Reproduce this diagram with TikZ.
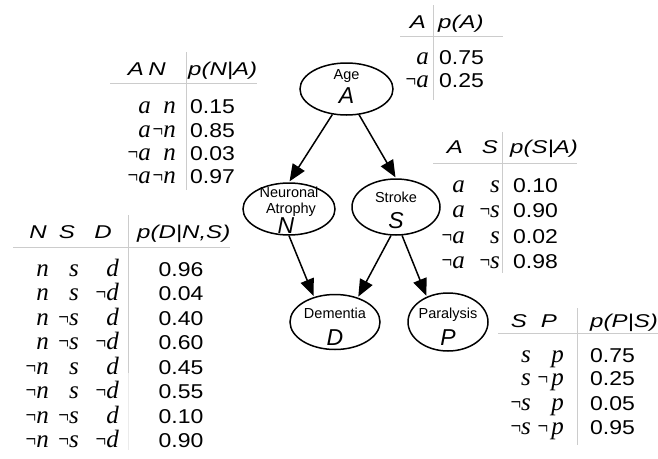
\documentclass[tikz,border=0pt]{standalone}
\usepackage{fontspec}
\usepackage{graphicx}
\setmainfont{Liberation Sans}
\newfontfamily\tsans[FakeStretch=1.15]{Liberation Sans}
\newfontfamily\thead[FakeStretch=1.3]{Liberation Sans}
\newfontfamily\tser{Liberation Serif}
\newcommand{\nt}{{\upshape\scalebox{0.75}[1]{¬}}}
\usetikzlibrary{shapes.geometric,arrows.meta}
\tikzset{
 bn/.style={ellipse, draw, line width=1.5pt, inner sep=0pt},
 nlbl/.style={font=\fontsize{14.5}{16}\selectfont, inner sep=0pt, anchor=base},
 nvar/.style={font=\itshape\fontsize{23}{25}\selectfont, inner sep=0pt, anchor=base},
 edge/.style={line width=1.5pt, -{Triangle[length=17pt,width=14pt]}, shorten >=1pt},
 hd/.style={font=\thead\itshape\fontsize{18.5}{20}\selectfont, inner sep=0pt},
 num/.style={font=\tsans\fontsize{20}{22}\selectfont, inner sep=0pt},
 var/.style={font=\tser\itshape\fontsize{25}{27}\selectfont, inner sep=0pt, anchor=base east},
 rule/.style={draw=black!20, line width=0.9pt},
}
\begin{document}
\begin{tikzpicture}[x=1pt,y=-1pt]
\path[fill=white,use as bounding box] (0,0) rectangle (658,458);

% ---------- Bayesian network ----------
\node[bn, minimum width=93pt, minimum height=52pt] (A) at (346.5,89) {};
\node[bn, minimum width=92pt, minimum height=52pt] (N) at (289,209) {};
\node[bn, minimum width=88pt, minimum height=56pt] (S) at (396,207) {};
\node[bn, minimum width=90pt, minimum height=55pt] (D) at (335,322) {};
\node[bn, minimum width=80pt, minimum height=58pt] (P) at (448,322) {};

\node[nlbl] (At) at (346.5,79) {Age};
\node[nvar] (Av) at (346.5,103) {A};
\node[nlbl] (Nt1) at (289,197) {Neuronal};
\node[nlbl] (Nt2) at (291,213) {Atrophy};
\node[nvar] (Nv) at (286,233) {N};
\node[nlbl] (St) at (396,202) {Stroke};
\node[nvar] (Sv) at (396,228) {S};
\node[nlbl] (Dt) at (335,318) {Dementia};
\node[nvar] (Dv) at (335,345) {D};
\node[nlbl] (Pt) at (448,318) {Paralysis};
\node[nvar] (Pv) at (448,345) {P};

\draw[edge] (A.-119) -- (N.north);
\draw[edge] (A.-64) -- (S.north);
\draw[edge] (N.south) -- (D.130);
\draw[edge] (S.-100) -- (D.47);
\draw[edge] (S.-78) -- (P.130);

% ---------- table p(A) ----------
\draw[rule] (400,36) coordinate (ta1) -- (503,36) coordinate (ta2);
\draw[rule] (433,5) coordinate (ta3) -- (433,100) coordinate (ta4);
\node[hd, anchor=base east] (taA) at (426,28) {A};
\node[hd, anchor=base west] (taP) at (438,28) {p(A)};
\node[var] (ta11) at (429,64) {a};
\node[num, anchor=base west] (ta12) at (439,64) {0.75};
\node[var] (ta21) at (429,87) {\nt a};
\node[num, anchor=base west] (ta22) at (439,87) {0.25};

% ---------- table p(N|A) ----------
\draw[rule] (110,83) coordinate (tn1) -- (257,83) coordinate (tn2);
\draw[rule] (186,52) coordinate (tn3) -- (186,190) coordinate (tn4);
\node[hd, anchor=base east] (tnA) at (144,75) {A};
\node[hd, anchor=base east] (tnN) at (166,75) {N};
\node[hd, anchor=base west] (tnP) at (188,75) {p(N|A)};
\foreach \a/\b/\v/\y [count=\i] in {a/n/0.15/113, a/\nt n/0.85/137, \nt a/n/0.03/160, \nt a/\nt n/0.97/183}{
  \node[var] (tn\i a) at (151,\y) {\a};
  \node[var] (tn\i b) at (176,\y) {\b};
  \node[num, anchor=base west] (tn\i v) at (190,\y) {\v};
}

% ---------- table p(S|A) ----------
\draw[rule] (433,163) coordinate (ts1) -- (577,163) coordinate (ts2);
\draw[rule] (502,132) coordinate (ts3) -- (502,273) coordinate (ts4);
\node[hd, anchor=base east] (tsA) at (463,153) {A};
\node[hd, anchor=base east] (tsS) at (498,153) {S};
\node[hd, anchor=base west] (tsP) at (510,153) {p(S|A)};
\foreach \a/\b/\v/\y [count=\i] in {a/s/0.10/192, a/\nt s/0.90/217, \nt a/s/0.02/243, \nt a/\nt s/0.98/268}{
  \node[var] (ts\i a) at (465,\y) {\a};
  \node[var] (ts\i b) at (500,\y) {\b};
  \node[num, anchor=base west] (ts\i v) at (513,\y) {\v};
}

% ---------- table p(D|N,S) ----------
\draw[rule] (13,247) coordinate (td1) -- (230,247) coordinate (td2);
\draw[rule] (128,215) coordinate (td3) -- (128,373) coordinate (td4);
\draw[draw=black!8, line width=0.9pt] (td4) -- (128,450) coordinate (td5);
\node[hd, anchor=base east] (tdN) at (47,238) {N};
\node[hd, anchor=base east] (tdS) at (75,238) {S};
\node[hd, anchor=base east] (tdD) at (112,238) {D};
\node[hd, anchor=base west] (tdP) at (137,238) {p(D|N,S)};
\foreach \a/\b/\c/\v [count=\i] in {n/s/d/0.96, n/s/\nt d/0.04, n/\nt s/d/0.40, n/\nt s/\nt d/0.60, \nt n/s/d/0.45, \nt n/s/\nt d/0.55, \nt n/\nt s/d/0.10, \nt n/\nt s/\nt d/0.90}{
  \pgfmathsetmacro\yy{276+(\i-1)*24.5}
  \node[var] (td\i a) at (49,\yy) {\a};
  \node[var] (td\i b) at (79,\yy) {\b};
  \node[var] (td\i c) at (119,\yy) {\c};
  \node[num, anchor=base] (td\i v) at (181,\yy) {\v};
}

% ---------- table p(P|S) ----------
\draw[rule] (498,333) coordinate (tp1) -- (658,333) coordinate (tp2);
\draw[rule] (577,308) coordinate (tp3) -- (577,445) coordinate (tp4);
\node[hd, anchor=base east] (tpS) at (527,327) {S};
\node[hd, anchor=base east] (tpP) at (557,327) {P};
\node[hd, anchor=base west] (tpH) at (590,327) {p(P|S)};
\foreach \a/\b/\v/\y [count=\i] in {s/p/0.75/362, s/\nt\kern3pt p/0.25/385, \nt s/p/0.05/410, \nt s/\nt\kern3pt p/0.95/434}{
  \node[var] (tp\i a) at (531,\y) {\a};
  \node[var] (tp\i b) at (564,\y) {\b};
  \node[num, anchor=base west] (tp\i v) at (590,\y) {\v};
}
\end{tikzpicture}
\end{document}
